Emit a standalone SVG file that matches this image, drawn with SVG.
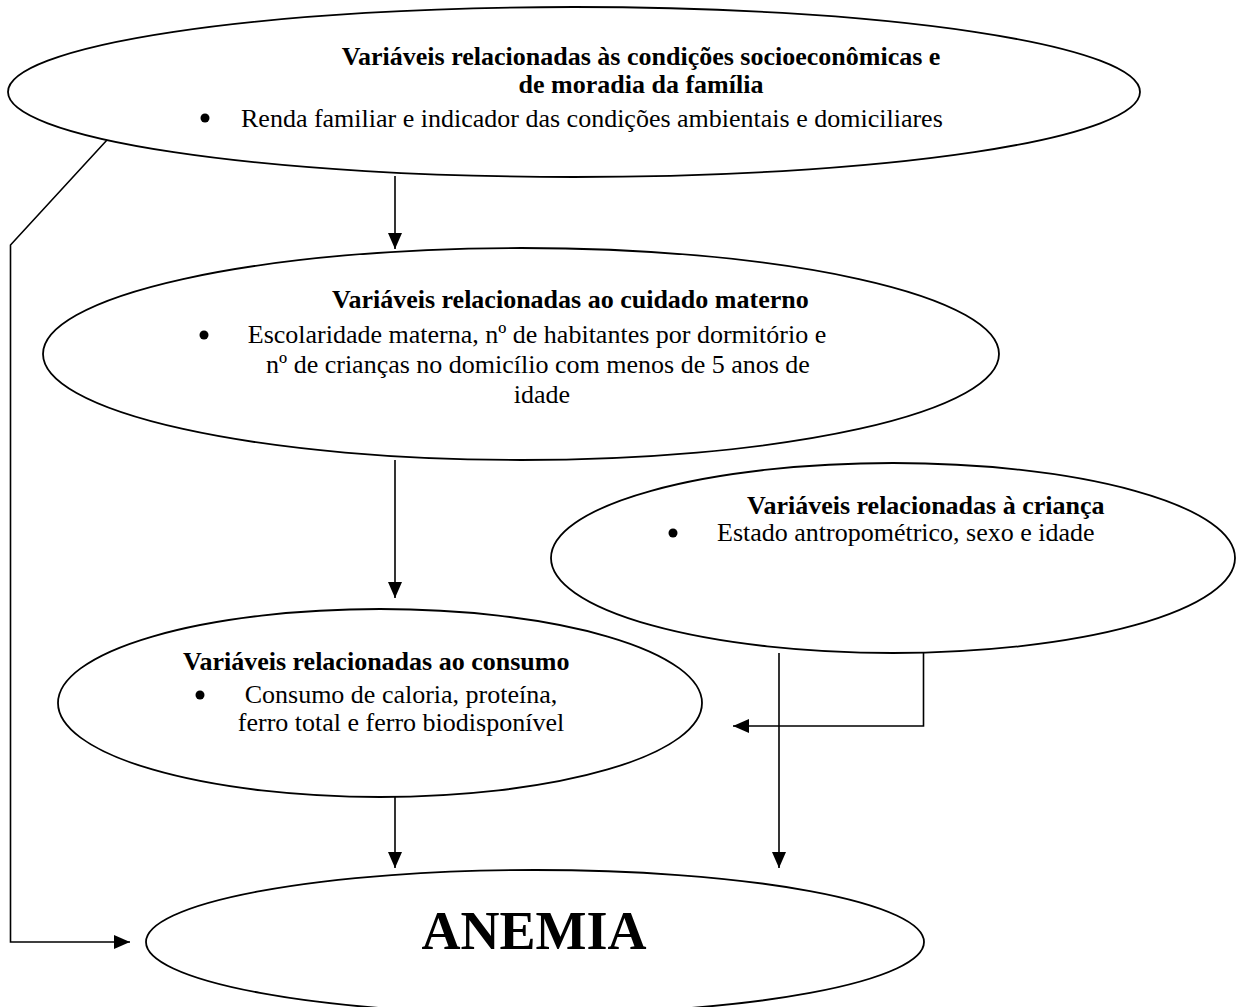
<svg xmlns="http://www.w3.org/2000/svg" width="1239" height="1007" viewBox="0 0 1239 1007">
<style>
.shape{fill:#fff;stroke:#000;stroke-width:1.8}
.t{font-family:"Liberation Serif","Times New Roman",serif;font-size:26px;fill:#000}
.b{font-weight:bold}
.big{font-family:"Liberation Serif","Times New Roman",serif;font-size:54px;font-weight:bold;fill:#000}
.edge{fill:none;stroke:#000;stroke-width:1.6}
</style>
<defs>
<marker id="arr" markerUnits="userSpaceOnUse" markerWidth="16" markerHeight="14" viewBox="0 0 16 14" refX="16" refY="7" orient="auto">
<path d="M0,0 L16,7 L0,14 Z" fill="#000"/>
</marker>
</defs>
<rect width="1239" height="1007" fill="#fff"/>
<g id="node-socio">
<ellipse class="shape" cx="574" cy="92" rx="566" ry="85"/>
<text class="t b" x="641" y="65" text-anchor="middle">Variáveis relacionadas às condições socioeconômicas e</text>
<text class="t b" x="641" y="93" text-anchor="middle">de moradia da família</text>
<circle cx="205" cy="118" r="4.5"/>
<text class="t" x="241" y="127">Renda familiar e indicador das condições ambientais e domiciliares</text>
</g>
<g id="node-materno">
<ellipse class="shape" cx="521" cy="354" rx="478" ry="106"/>
<text class="t b" x="332" y="308">Variáveis relacionadas ao cuidado materno</text>
<circle cx="204" cy="335" r="4.5"/>
<text class="t" x="537" y="343" text-anchor="middle">Escolaridade materna, nº de habitantes por dormitório e</text>
<text class="t" x="538" y="373" text-anchor="middle">nº de crianças no domicílio com menos de 5 anos de</text>
<text class="t" x="542" y="403" text-anchor="middle">idade</text>
</g>
<g id="node-crianca">
<ellipse class="shape" cx="893" cy="558" rx="342" ry="95"/>
<text class="t b" x="747" y="514">Variáveis relacionadas à criança</text>
<circle cx="673" cy="533" r="4.5"/>
<text class="t" x="717" y="541">Estado antropométrico, sexo e idade</text>
</g>
<g id="node-consumo">
<ellipse class="shape" cx="380" cy="703" rx="322" ry="94"/>
<text class="t b" x="183" y="670">Variáveis relacionadas ao consumo</text>
<circle cx="200" cy="695" r="4.5"/>
<text class="t" x="401" y="703" text-anchor="middle">Consumo de caloria, proteína,</text>
<text class="t" x="401" y="731" text-anchor="middle">ferro total e ferro biodisponível</text>
</g>
<g id="node-anemia">
<ellipse class="shape" cx="535" cy="942" rx="389" ry="72"/>
<text class="big" x="534" y="949" text-anchor="middle">ANEMIA</text>
</g>
<g id="connectors">
<path class="edge" d="M395,176 L395,249" marker-end="url(#arr)"/>
<path class="edge" d="M395,460 L395,598" marker-end="url(#arr)"/>
<path class="edge" d="M395,797 L395,868" marker-end="url(#arr)"/>
<path class="edge" d="M779,653 L779,868" marker-end="url(#arr)"/>
<path class="edge" d="M923.5,653 L923.5,726 L733,726" marker-end="url(#arr)"/>
<path class="edge" d="M107,140 L10.5,245 L10.5,942 L130,942" marker-end="url(#arr)"/>
</g>
</svg>
